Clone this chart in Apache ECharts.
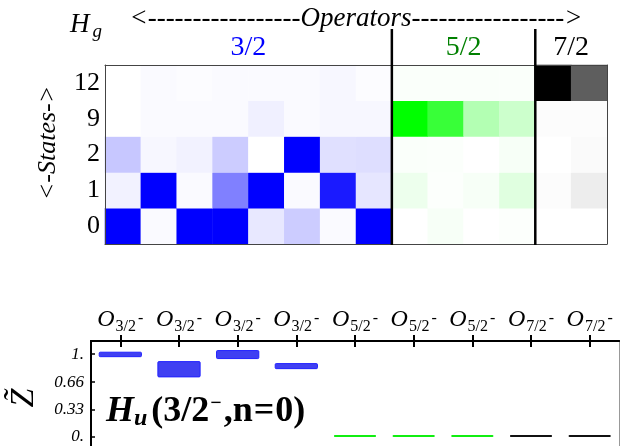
<!DOCTYPE html>
<html><head><meta charset="utf-8">
<script src="https://cdn.jsdelivr.net/npm/echarts@6/dist/echarts.min.js"></script>
<style>html,body{margin:0;padding:0;background:#fff}#c{width:620px;height:446px}</style>
</head><body><div id="c"></div>
<script>
// ---- data ----
const states = ['0', '1', '2', '9', '12'];           // bottom -> top
const blocks = ['3/2', '5/2', '7/2'];
const blockScale = ['#0000ff', '#00ff00', '#000000'];
const blockLabelColors = ['#0000ff', '#008000', '#000000'];
// rows follow `states` order
const hm32 = [
  [1.0, 0.02, 1.0, 1.0, 0.09, 0.2, 0.02, 1.0],
  [0.05, 1.0, 0.02, 0.5, 1.0, 0.02, 0.9, 0.1],
  [0.22, 0.03, 0.05, 0.2, 0.0, 1.0, 0.12, 0.13],
  [0.0, 0.02, 0.02, 0.02, 0.06, 0.02, 0.03, 0.03],
  [0.0, 0.02, 0.01, 0.02, 0.02, 0.02, 0.03, 0.01]
];
const hm52 = [
  [0.0, 0.03, 0.0, 0.01],
  [0.07, 0.01, 0.03, 0.12],
  [0.02, 0.015, 0.0, 0.03],
  [1.0, 0.78, 0.3, 0.2],
  [0.02, 0.02, 0.02, 0.02]
];
const hm72 = [
  [0.0, 0.0],
  [0.01, 0.07],
  [0.0, 0.02],
  [0.01, 0.01],
  [1.0, 0.63]
];
const opLabels = ['3/2', '3/2', '3/2', '3/2', '5/2', '5/2', '5/2', '7/2', '7/2'];
const zLow  = [0.97, 0.725, 0.947, 0.825, -0.004, -0.004, -0.004, -0.004, -0.004];
const zHigh = [1.024, 0.91, 1.044, 0.886, 0.02, 0.02, 0.02, 0.02, 0.02];
const yTicks = [0, 0.33, 0.66, 1];
const yTickLabels = ['0.', '0.33', '0.66', '1.'];

// ---- build ----
const FONT = '"Liberation Serif", "Times New Roman", serif';
const hmBlocks = [hm32, hm52, hm72];
const hmCols = [];
const hmSeries = [];
let off = 0;
const blockRanges = [];
hmBlocks.forEach((m, b) => {
  const n = m[0].length;
  const data = [];
  for (let r = 0; r < m.length; r++) for (let c = 0; c < n; c++) data.push([off + c, r, m[r][c]]);
  for (let c = 0; c < n; c++) hmCols.push(blocks[b] + '_' + c);
  blockRanges.push([off, off + n - 1]);
  hmSeries.push({type: 'heatmap', xAxisIndex: 0, yAxisIndex: 0, data: data, itemStyle: {borderWidth: 0}, emphasis: {disabled: true}});
  off += n;
});

const barColors = {'3/2': ['#4040f2', '#2222ff'], '5/2': ['#11ee11', '#11ee11'], '7/2': ['#111111', '#111111']};
const barData = opLabels.map((l, i) => [i, zLow[i], zHigh[i]]);

const hmLine = {show: true, onZero: false, lineStyle: {color: '#444', width: 1}};
const chart = echarts.init(document.getElementById('c'), null, {renderer: 'canvas'});
chart.setOption({
  animation: false,
  backgroundColor: '#fff',
  grid: [
    {left: 105, top: 65, width: 502, height: 179},
    {left: 91, top: 341, width: 528, bottom: 0}
  ],
  visualMap: blocks.map((b, i) => ({
    show: false, type: 'continuous', seriesIndex: i, min: 0, max: 1, dimension: 2,
    inRange: {color: ['#ffffff', blockScale[i]]}
  })),
  xAxis: [
    {type: 'category', gridIndex: 0, data: hmCols, position: 'bottom', z: 10,
      axisLine: hmLine, axisTick: {show: false}, axisLabel: {show: false}},
    {type: 'category', gridIndex: 0, data: hmCols, position: 'top', z: 10,
      axisLine: hmLine, axisTick: {show: false}, axisLabel: {show: false}},
    {type: 'category', gridIndex: 1, data: opLabels, position: 'top', z: 10,
      axisLine: {show: true, onZero: false, lineStyle: {color: '#000', width: 2}},
      axisTick: {show: true, inside: true, length: 6, lineStyle: {color: '#000', width: 2}, alignWithLabel: true},
      axisLabel: {
        show: true, margin: 9, interval: 0,
        formatter: v => '{o|O}{s|' + v + '}{m|-}',
        rich: {
          o: {fontFamily: FONT, fontStyle: 'italic', fontSize: 24, color: '#000', lineHeight: 24},
          s: {fontFamily: FONT, fontSize: 16, color: '#000', verticalAlign: 'bottom', lineHeight: 16, padding: [0, 0, -3, 1]},
          m: {fontFamily: FONT, fontSize: 16, color: '#000', verticalAlign: 'bottom', lineHeight: 16, padding: [0, 0, 5, 2]}
        }
      }},
    {type: 'category', gridIndex: 1, data: opLabels, position: 'top', z: 10, offset: 0,
      axisLine: {show: true, onZero: false, lineStyle: {color: '#000', width: 2}},
      axisTick: {show: true, inside: false, length: 6, lineStyle: {color: '#000', width: 2}, alignWithLabel: true},
      axisLabel: {show: false}}
  ],
  yAxis: [
    {type: 'category', gridIndex: 0, data: states, position: 'left', z: 10,
      axisLine: hmLine, axisTick: {show: false},
      axisLabel: {fontFamily: FONT, fontSize: 26, color: '#000', margin: 5}},
    {type: 'category', gridIndex: 0, data: states, position: 'right', z: 10,
      axisLine: hmLine, axisTick: {show: false}, axisLabel: {show: false}},
    {type: 'value', gridIndex: 1, min: -0.113, max: 1.16, position: 'left', z: 10,
      splitLine: {show: false},
      axisLine: {show: true, onZero: false, lineStyle: {color: '#000', width: 2}},
      axisTick: {show: true, inside: true, length: 4, lineStyle: {color: '#000', width: 1.5}, customValues: yTicks},
      axisLabel: {customValues: yTicks, margin: 7, fontFamily: FONT, fontStyle: 'italic', fontSize: 17, color: '#000',
        formatter: v => { const i = yTicks.findIndex(t => Math.abs(t - v) < 1e-9); return i >= 0 ? yTickLabels[i] : ''; }}},
    {type: 'value', gridIndex: 1, min: -0.113, max: 1.16, position: 'right', z: 10,
      splitLine: {show: false},
      axisLine: {show: true, onZero: false, lineStyle: {color: '#999', width: 1}}, axisTick: {show: false}, axisLabel: {show: false}}
  ],
  series: hmSeries.concat([{
    type: 'custom', xAxisIndex: 2, yAxisIndex: 2, data: barData, z: 5,
    renderItem: (params, api) => {
      const x = api.value(0), lo = api.value(1), hi = api.value(2);
      const g = opLabels[x];
      const p1 = api.coord([x, hi]);
      const p2 = api.coord([x, lo]);
      const w = api.size([1, 0])[0] * 0.72;
      return {type: 'rect', shape: {x: p1[0] - w / 2, y: p1[1], width: w, height: Math.max(p2[1] - p1[1], 2), r: 1},
        style: {fill: barColors[g][0], stroke: barColors[g][1], lineWidth: g === '3/2' ? 1 : 0}};
    }
  }])
});

// ---- annotations positioned from axis scales ----
const px = c => chart.convertToPixel({xAxisIndex: 0}, c);
const gBot = 244;
const F = (style, size) => style + ' ' + size + 'px "Liberation Serif", serif';
const graphics = [];
for (let b = 1; b < blocks.length; b++) {
  const xs = (px(blockRanges[b - 1][1]) + px(blockRanges[b][0])) / 2;
  graphics.push({type: 'line', shape: {x1: xs, y1: 29, x2: xs, y2: gBot + 1}, style: {stroke: '#000', lineWidth: 2.5}, z: 20});
}
blocks.forEach((b, i) => {
  const cx = (px(blockRanges[i][0]) + px(blockRanges[i][1])) / 2;
  graphics.push({type: 'text', x: cx, y: 48, z: 20,
    style: {text: b, font: F('normal', 28), fill: blockLabelColors[i], align: 'center', verticalAlign: 'middle'}});
});
const hmCenter = (px(0) + px(hmCols.length - 1)) / 2;
graphics.push({type: 'text', x: hmCenter, y: 19, z: 20,
  style: {text: '<' + '-'.repeat(17) + 'Operators' + '-'.repeat(17) + '>', font: F('italic', 27), fill: '#000', align: 'center', verticalAlign: 'middle'}});
graphics.push({type: 'text', x: 70, y: 25, z: 20,
  style: {text: '{h|H}{g|g}', verticalAlign: 'middle', rich: {
    h: {font: F('italic', 27), fill: '#000'},
    g: {font: F('italic', 19), fill: '#000', padding: [14, 0, 0, 3]}}}});
graphics.push({type: 'text', x: 48, y: 143, rotation: Math.PI / 2, z: 20,
  style: {text: '<-States->', font: F('italic', 26), fill: '#000', align: 'center', verticalAlign: 'middle'}});
graphics.push({type: 'text', x: 24, y: 398, rotation: Math.PI / 2, z: 20,
  style: {text: 'Z\u0303', font: F('italic', 34), fill: '#000', align: 'center', verticalAlign: 'middle'}});
graphics.push({type: 'text', x: 106, y: 412, z: 20,
  style: {text: '{h|H}{u|u}{b|(3/2}{s|\u2212}{b|,n}{e|=}{b|0)}', verticalAlign: 'middle', rich: {
    h: {font: F('italic bold', 36), fill: '#000'},
    u: {font: F('italic bold', 24), fill: '#000', padding: [14, 4, 0, 0]},
    b: {font: F('bold', 36), fill: '#000'},
    e: {font: F('bold', 36), fill: '#000', padding: [0, 1, 0, 1]},
    s: {font: F('bold', 20), fill: '#000', padding: [0, 2, 16, 1]}}}});
chart.setOption({graphic: graphics});
</script></body></html>
